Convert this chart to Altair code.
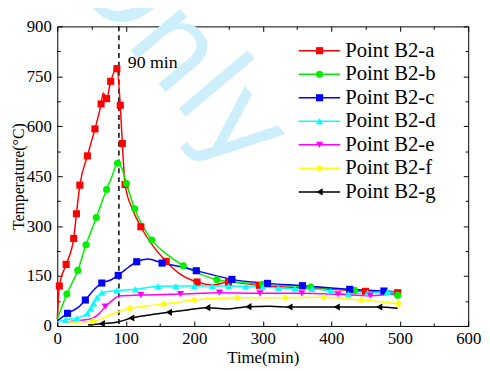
import altair as alt
import pandas as pd

# ---------------- data ----------------
series_names = ["Point B2-a", "Point B2-b", "Point B2-c", "Point B2-d",
                "Point B2-e", "Point B2-f", "Point B2-g"]
series_colors = ["#ff0000", "#00ee00", "#0000ff", "#00ffff",
                 "#ff00ff", "#ffff00", "#000000"]
series_shapes = ["square", "circle", "square", "triangle-up",
                 "triangle-down", "diamond", "triangle-left"]

a_t = [0, 3, 13, 24, 28, 33, 44, 55, 64, 67, 72, 78, 87, 92, 95, 99, 110, 122, 140, 159, 180, 204, 228, 250, 295, 350, 400, 450, 497]
a_T = [20, 120, 185, 263, 337, 423, 511, 592, 667, 700, 683, 735, 773, 663, 548, 425, 350, 298, 240, 194, 155, 132, 123, 132, 122, 115, 110, 104, 100]
a_m = [0, 1, 1, 1, 1, 1, 1, 1, 1, 0, 1, 1, 1, 1, 1, 1, 0, 1, 0, 1, 0, 1, 0, 1, 1, 0, 0, 1, 1]

b_t = [0, 14, 30, 42, 57, 72, 80, 88, 95, 101, 113, 138, 160, 184, 210, 233, 260, 300, 370, 434, 470, 497]
b_T = [20, 96, 167, 244, 326, 410, 450, 489, 470, 428, 352, 258, 215, 181, 155, 139, 132, 125, 117, 107, 100, 92]
b_m = [0, 1, 1, 1, 1, 1, 0, 1, 0, 1, 1, 1, 0, 1, 0, 1, 0, 1, 1, 1, 0, 1]

c_t = [0, 15, 30, 41, 55, 65, 78, 89, 100, 116, 132, 153, 180, 203, 230, 255, 307, 358, 427, 477, 500]
c_T = [15, 38, 55, 78, 112, 129, 138, 152, 170, 193, 201, 189, 178, 166, 152, 140, 128, 121, 110, 105, 102]
c_m = [0, 1, 0, 1, 0, 1, 0, 1, 0, 1, 0, 1, 0, 1, 0, 1, 1, 1, 1, 1, 0]

d_t = [0, 12, 29, 44, 49, 53, 58, 65, 87, 114, 147, 173, 200, 226, 250, 275, 300, 323, 347, 372, 399, 425, 453, 482, 500]
d_T = [12, 19, 24, 38, 53, 68, 85, 100, 106, 110, 119, 120, 120, 120, 120, 119, 117, 114, 112, 111, 105, 96, 100, 102, 101]
d_m = [0, 1, 1, 1, 1, 1, 1, 1, 1, 1, 1, 1, 1, 1, 1, 1, 1, 1, 1, 1, 1, 1, 1, 1, 0]

e_t = [10, 30, 50, 60, 70, 80, 90, 122, 180, 237, 296, 357, 410, 457, 500]
e_T = [12, 16, 22, 35, 58, 76, 90, 93, 96, 100, 98, 98, 95, 91, 99]
e_m = [0, 0, 0, 0, 1, 0, 0, 1, 1, 1, 1, 1, 1, 1, 0]

f_t = [12, 30, 52, 80, 106, 130, 156, 200, 263, 333, 389, 444, 498]
f_T = [12, 12, 14, 35, 53, 60, 66, 78, 85, 85, 86, 78, 67]
f_m = [0, 0, 1, 0, 1, 0, 1, 1, 1, 1, 1, 1, 1]

g_t = [45, 65, 89, 108, 135, 163, 190, 219, 247, 279, 310, 339, 375, 408, 440, 470, 497]
g_T = [3, 7, 12, 24, 33, 41, 48, 55, 51, 58, 59, 57, 57, 57, 57, 57, 53]
g_m = [0, 1, 0, 1, 0, 1, 0, 1, 0, 1, 0, 1, 0, 1, 0, 1, 0]

x_major = [0, 100, 200, 300, 400, 500, 600]
x_minor = [50, 150, 250, 350, 450, 550]
y_major = [0, 150, 300, 450, 600, 750, 900]
y_minor = [75, 225, 375, 525, 675, 825]

fire_end = 90
fire_label = "90 min"
watermark = "Only"

# ---------------- tables ----------------
all_t = [a_t, b_t, c_t, d_t, e_t, f_t, g_t]
all_T = [a_T, b_T, c_T, d_T, e_T, f_T, g_T]
all_m = [a_m, b_m, c_m, d_m, e_m, f_m, g_m]
rows = []
for name, ts, Ts, ms in zip(series_names, all_t, all_T, all_m):
    for t, T, m in zip(ts, Ts, ms):
        rows.append({"series": name, "t": t, "T": T, "m": m})
df = pd.DataFrame(rows)

# legend rows (positions in data units of the shared scales)
leg_top, leg_step = 827, 70.7
leg = pd.DataFrame({
    "series": series_names,
    "ly": [leg_top - leg_step * i for i in range(len(series_names))],
    "lx0": 352.5, "lx1": 413.0, "lxm": 383.0, "lxt": 420.5,
})

FONT = "Liberation Serif"
xs = alt.Scale(domain=[0, 600], nice=False, zero=False)
ys = alt.Scale(domain=[0, 900], nice=False, zero=False)
col = alt.Scale(domain=series_names, range=series_colors)
shp = alt.Scale(domain=series_names, range=series_shapes)


def ax(orient, values, size, labels=True, domain=True, title=None, **kw):
    args = dict(orient=orient, values=values, tickSize={"expr": str(-size)},
                labels=labels, domain=domain, grid=False, tickColor="black",
                domainColor="black", tickWidth=1, domainWidth=1)
    args["title"] = title if title is not None else None
    args.update(kw)
    return alt.Axis(**args)


def axis_layer(xaxis, yaxis):
    return alt.Chart(df).mark_point(opacity=0).encode(
        x=alt.X("t:Q", scale=xs, axis=xaxis),
        y=alt.Y("T:Q", scale=ys, axis=yaxis),
    )


ax1 = axis_layer(
    ax("bottom", x_major, 5, title="Time(min)", labelPadding=10,
       titleY=37, titleBaseline="alphabetic", labelFlush=False),
    ax("left", y_major, 5, title="Temperature(\u00b0C)", labelPadding=11,
       titleX=-39, titleBaseline="middle", titleAngle=270, titleFontSize=16),
)
ax2 = axis_layer(ax("bottom", x_minor, 3, labels=False, domain=False),
                 ax("left", y_minor, 3, labels=False, domain=False))
ax3 = axis_layer(ax("top", x_major, 5, labels=False),
                 ax("right", y_major, 5, labels=False))
ax4 = axis_layer(ax("top", x_minor, 3, labels=False, domain=False),
                 ax("right", y_minor, 3, labels=False, domain=False))

wm = alt.Chart(pd.DataFrame({"w": [watermark]})).mark_text(
    font="DejaVu Sans", fontSize=120, color="#cdeefb", angle=50,
    align="center", baseline="alphabetic",
).encode(text="w:N", x=alt.value(95), y=alt.value(49))

lines = alt.Chart(df).mark_line(strokeWidth=1.5, interpolate="monotone").encode(
    x=alt.X("t:Q", scale=xs, axis=None),
    y=alt.Y("T:Q", scale=ys, axis=None),
    color=alt.Color("series:N", scale=col, legend=None),
    detail="series:N",
)
pts = alt.Chart(df).transform_filter("datum.m == 1").mark_point(
    filled=True, opacity=1, size=52).encode(
    x=alt.X("t:Q", scale=xs, axis=None),
    y=alt.Y("T:Q", scale=ys, axis=None),
    color=alt.Color("series:N", scale=col, legend=None),
    shape=alt.Shape("series:N", scale=shp, legend=None),
)

vline = alt.Chart(pd.DataFrame({"t": [fire_end]})).mark_rule(
    color="black", strokeWidth=1.5, strokeDash=[5, 4]).encode(
    x=alt.X("t:Q", scale=xs, axis=None))
vtext = alt.Chart(pd.DataFrame({"t": [fire_end], "T": [790], "s": [fire_label]})).mark_text(
    font=FONT, fontSize=18, align="left", baseline="middle", dx=9, color="black").encode(
    x=alt.X("t:Q", scale=xs, axis=None),
    y=alt.Y("T:Q", scale=ys, axis=None),
    text="s:N")

leg_line = alt.Chart(leg).mark_rule(strokeWidth=1.5).encode(
    x=alt.X("lx0:Q", scale=xs, axis=None), x2="lx1:Q",
    y=alt.Y("ly:Q", scale=ys, axis=None),
    color=alt.Color("series:N", scale=col, legend=None))
leg_pt = alt.Chart(leg).mark_point(filled=True, opacity=1, size=52).encode(
    x=alt.X("lxm:Q", scale=xs, axis=None),
    y=alt.Y("ly:Q", scale=ys, axis=None),
    color=alt.Color("series:N", scale=col, legend=None),
    shape=alt.Shape("series:N", scale=shp, legend=None))
leg_txt = alt.Chart(leg).mark_text(font=FONT, fontSize=21, align="left",
                                   baseline="middle", color="black").encode(
    x=alt.X("lxt:Q", scale=xs, axis=None),
    y=alt.Y("ly:Q", scale=ys, axis=None),
    text="series:N")

chart = alt.layer(
    wm, ax1, ax2, ax3, ax4, vline, lines, pts, vtext, leg_line, leg_pt, leg_txt
).resolve_axis(x="independent", y="independent").properties(
    width=417, height=304,
    padding={"left": 50, "top": 16, "right": 14, "bottom": 41},
    autosize=alt.AutoSizeParams(type="none"),
).configure_view(stroke=None).configure_axis(
    labelFont=FONT, titleFont=FONT, labelFontSize=17, titleFontSize=17,
    labelColor="black", titleColor="black", titleFontWeight="normal",
)

chart.save("out.html", embed_options={"renderer": "svg", "actions": False})
